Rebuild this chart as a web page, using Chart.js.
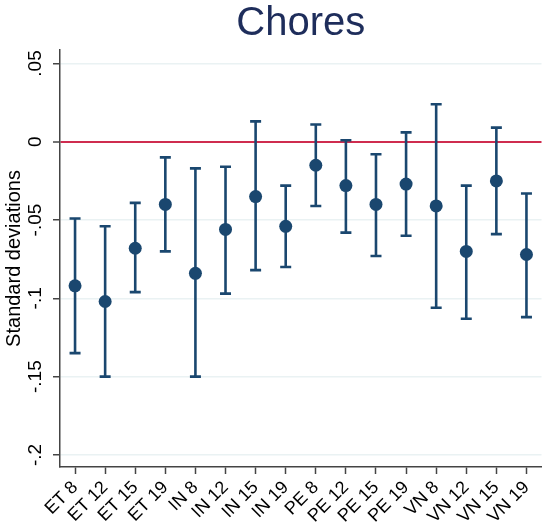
<!DOCTYPE html>
<html>
<head>
<meta charset="utf-8">
<script src="https://cdn.jsdelivr.net/npm/chart.js@4.4.1/dist/chart.umd.min.js"></script>
<style>
  html, body { margin: 0; padding: 0; background: #fff; }
  canvas { display: block; }
</style>
</head>
<body>
<canvas id="chores-chart" width="548" height="527"></canvas>
<script>
// Point estimates and 95% confidence bounds
const categories = ['ET 8', 'ET 12', 'ET 15', 'ET 19', 'IN 8', 'IN 12', 'IN 15', 'IN 19',
                    'PE 8', 'PE 12', 'PE 15', 'PE 19', 'VN 8', 'VN 12', 'VN 15', 'VN 19'];
const estimates = [-0.092, -0.102, -0.068, -0.040, -0.084, -0.056, -0.035, -0.054,
                   -0.015, -0.028, -0.040, -0.027, -0.041, -0.070, -0.025, -0.072];
const lowerCI = [-0.135, -0.150, -0.096, -0.070, -0.150, -0.097, -0.082, -0.080,
                 -0.041, -0.058, -0.073, -0.060, -0.106, -0.113, -0.059, -0.112];
const upperCI = [-0.049, -0.054, -0.039, -0.010, -0.017, -0.016, 0.013, -0.028,
                 0.011, 0.001, -0.008, 0.006, 0.024, -0.028, 0.009, -0.033];
const yTicks = [-0.2, -0.15, -0.1, -0.05, 0, 0.05];
const yTickLabels = ['-.2', '-.15', '-.1', '-.05', '0', '.05'];

const navy = '#1a476f';
const fontFamily = '"Liberation Sans", Arial, sans-serif';

// Draws the vertical CI whiskers with caps behind the dots
const errorBars = {
    id: 'errorBars',
    beforeDatasetsDraw(chart) {
        const ctx = chart.ctx;
        const x = chart.scales.x;
        const y = chart.scales.y;
        ctx.save();
        ctx.strokeStyle = navy;
        ctx.lineWidth = 2.6;
        ctx.lineCap = 'butt';
        categories.forEach((cat, i) => {
            const px = x.getPixelForValue(i);
            const top = y.getPixelForValue(upperCI[i]);
            const bottom = y.getPixelForValue(lowerCI[i]);
            ctx.beginPath();
            ctx.moveTo(px, top);
            ctx.lineTo(px, bottom);
            ctx.moveTo(px - 5.5, top);
            ctx.lineTo(px + 5.5, top);
            ctx.moveTo(px - 5.5, bottom);
            ctx.lineTo(px + 5.5, bottom);
            ctx.stroke();
        });
        ctx.restore();
    }
};

const ctx = document.getElementById('chores-chart').getContext('2d');

new Chart(ctx, {
    type: 'line',
    data: {
        labels: categories,
        datasets: [{
            label: 'Chores',
            data: estimates,
            showLine: false,
            pointRadius: 6.5,
            pointHoverRadius: 6.5,
            pointBackgroundColor: navy,
            pointBorderColor: navy,
            pointBorderWidth: 0
        }]
    },
    options: {
        responsive: false,
        animation: false,
        events: [],
        layout: { padding: { top: 0, left: 0, right: 0, bottom: 0 } },
        plugins: {
            legend: { display: false },
            tooltip: { enabled: false },
            title: {
                display: true,
                text: 'Chores',
                fullSize: false,
                color: '#1e2d5b',
                font: { family: fontFamily, size: 40, weight: 'normal' },
                padding: { top: 0, bottom: 2 }
            }
        },
        scales: {
            x: {
                type: 'category',
                offset: true,
                border: { color: '#444', width: 1.5 },
                grid: {
                    display: true,
                    drawOnChartArea: false,
                    drawTicks: true,
                    tickLength: 7,
                    tickColor: '#444',
                    tickWidth: 1.5,
                    offset: false
                },
                ticks: {
                    minRotation: 45,
                    maxRotation: 45,
                    autoSkip: false,
                    padding: 3,
                    color: '#000',
                    font: { family: fontFamily, size: 18 }
                },
                afterFit(scale) { scale.height = 60; }
            },
            y: {
                min: -0.2077,
                max: 0.0586,
                border: { color: '#444', width: 1.5 },
                grid: {
                    color: c => (c.tick && c.tick.value === 0) ? '#cf2c4f' : '#eaf2f3',
                    lineWidth: c => (c.tick && c.tick.value === 0) ? 2 : 1.5,
                    tickLength: 7,
                    tickColor: '#444',
                    tickWidth: 1.5
                },
                afterBuildTicks(scale) {
                    scale.ticks = yTicks.map(v => ({ value: v }));
                },
                ticks: {
                    minRotation: 90,
                    maxRotation: 90,
                    crossAlign: 'center',
                    padding: 1,
                    color: '#000',
                    font: { family: fontFamily, size: 19 },
                    callback: (value, index) => yTickLabels[index]
                },
                title: {
                    display: true,
                    text: 'Standard deviations',
                    color: '#000',
                    font: { family: fontFamily, size: 20 },
                    padding: { top: 2, bottom: 0 }
                },
                afterFit(scale) { scale.width = 60; }
            }
        }
    },
    plugins: [errorBars]
});
</script>
</body>
</html>
